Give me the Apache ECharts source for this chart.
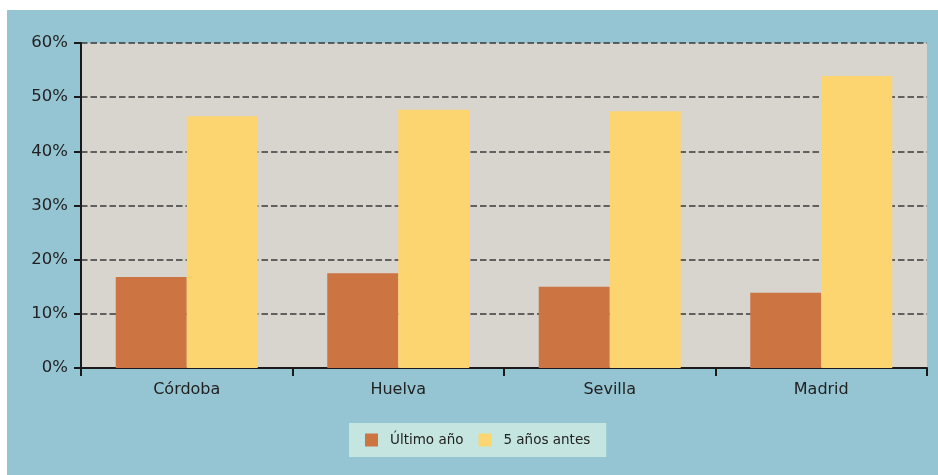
<!DOCTYPE html>
<html>
<head>
<meta charset="utf-8">
<script src="https://cdn.jsdelivr.net/npm/echarts@6/dist/echarts.min.js"></script>
<style>
  html, body { margin: 0; padding: 0; background: #ffffff; }
  #wrap { position: relative; width: 938px; height: 475px; background: #ffffff; overflow: hidden; }
  #chart { position: absolute; left: 7px; top: 10px; width: 931px; height: 465px; }
</style>
</head>
<body>
<div id="wrap"><div id="chart"></div></div>
<script>
const categories = ['Córdoba', 'Huelva', 'Sevilla', 'Madrid'];
const ultimoAnio = [16.8, 17.5, 15.0, 13.9];
const cincoAniosAntes = [46.5, 47.7, 47.4, 53.9];
const seriesNames = ['Último año', '5 años antes'];

const chart = echarts.init(document.getElementById('chart'), null, { renderer: 'canvas' });
const font = 'DejaVu Sans';
chart.setOption({
  backgroundColor: '#95C5D3',
  animation: false,
  textStyle: { fontFamily: font },
  grid: { left: 74, top: 33, right: 11, bottom: 107, containLabel: false,
          show: true, backgroundColor: '#D8D4CE', borderWidth: 0 },
  legend: {
    left: 342, top: 413,
    backgroundColor: '#C5E5E0',
    padding: [10, 16, 10, 16],
    itemWidth: 13, itemHeight: 13, itemGap: 15,
    icon: 'rect',
    textStyle: { fontFamily: font, fontSize: 13.5, color: '#222222', padding: [0, 0, 0, 7] },
    data: seriesNames
  },
  xAxis: {
    type: 'category',
    data: categories,
    axisLine: { show: true, lineStyle: { color: '#1a1a1a', width: 2 } },
    axisTick: { show: true, alignWithLabel: false, length: 8, lineStyle: { color: '#1a1a1a', width: 2 } },
    axisLabel: { fontFamily: font, fontSize: 16, color: '#222222', margin: 14 },
    splitLine: { show: false }
  },
  yAxis: {
    type: 'value',
    min: 0, max: 60, interval: 10,
    axisLine: { show: true, lineStyle: { color: '#1a1a1a', width: 2 } },
    axisTick: { show: true, length: 7, lineStyle: { color: '#1a1a1a', width: 2 } },
    axisLabel: { fontFamily: font, fontSize: 16.5, color: '#222222', margin: 13, formatter: '{value}%' },
    splitLine: { show: true, lineStyle: { color: '#3a3a3a', width: 1.5, type: [6.5, 3] } }
  },
  series: [
    { name: seriesNames[0], type: 'bar', data: ultimoAnio, barWidth: 71, barGap: '0%',
      itemStyle: { color: '#CC7542' } },
    { name: seriesNames[1], type: 'bar', data: cincoAniosAntes, barWidth: 71, barGap: '0%',
      itemStyle: { color: '#FCD571' } }
  ]
});
</script>
</body>
</html>
